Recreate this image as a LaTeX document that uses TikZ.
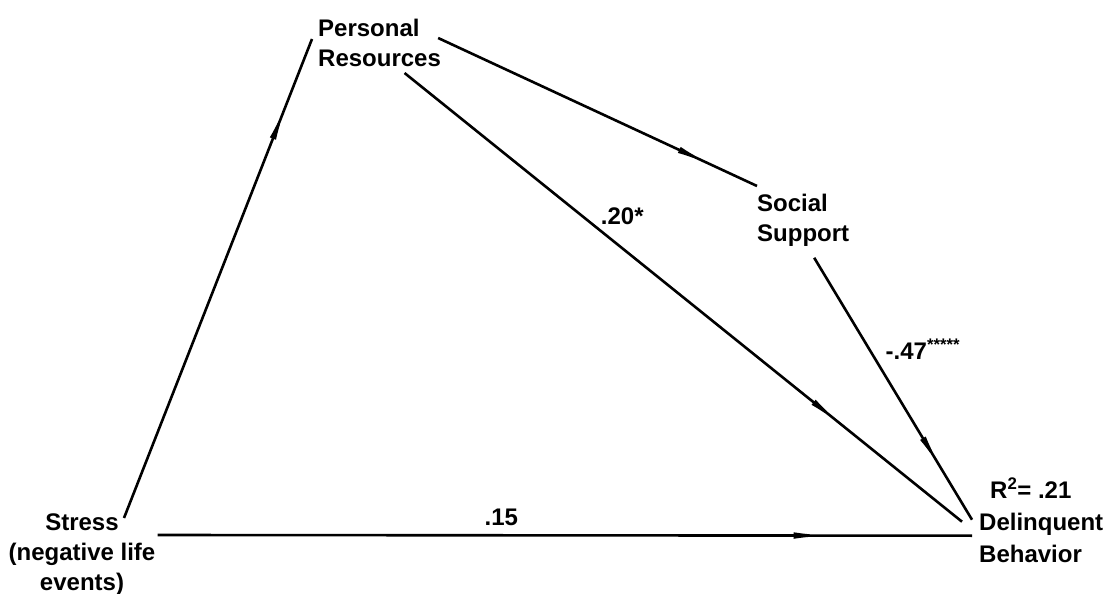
\documentclass[tikz,border=0pt]{standalone}
\usepackage{fontspec}
\setmainfont{Liberation Sans}
\usetikzlibrary{arrows.meta,positioning,decorations.markings}

\begin{document}
\begin{tikzpicture}[
  x=1pt, y=-1pt,
  var/.style={inner sep=0pt, font=\fontsize{24}{30}\selectfont\bfseries},
  lab/.style={inner sep=0pt, font=\fontsize{24}{30}\selectfont\bfseries},
  link/.style={line width=2.6pt, postaction={decorate},
    decoration={markings, mark=at position #1 with {\arrow{Latex[length=40pt,width=6.5pt]}}}},
  link/.default=0.85
]
\useasboundingbox (0,0) rectangle (1109,594);

\node[var, anchor=north, align=center] (stress) at (82,514) {Stress\\(negative life\\events)};
\node[var, anchor=north west, align=left] (pers) at (318,19) {Personal\\Resources};
\node[var, anchor=north west, align=left] (soc) at (757,194) {Social\\Support};
\node[var, anchor=north west, align=left, font=\fontsize{24}{32}\selectfont\bfseries] (del) at (979,478) {\hspace*{11pt}R\textsuperscript{2}= .21\\Delinquent\\Behavior};

\draw[link=0.87] ([shift={(42pt,-4pt)}]stress.north) -- ([shift={(-6pt,-20pt)}]pers.north west);
\draw[link=0.87] ([shift={(-3pt,-19pt)}]pers.north east) -- ([yshift=8pt]soc.north west);
\draw[link=0.79] ([shift={(25pt,-6pt)}]pers.south) -- node[lab, pos=0.35, anchor=south west, yshift=4pt]{.20*} ([shift={(-17pt,-1pt)}]del.west);
\draw[link=0.82] ([shift={(11pt,-11pt)}]soc.south) -- node[lab, pos=0.35, anchor=west, xshift=15pt]{-.47\textsuperscript{*****}} ([shift={(-7pt,1pt)}]del.west);
\draw[link=0.83] ([shift={(2pt,-21pt)}]stress.north east) -- node[lab, pos=0.40, anchor=south west, yshift=8pt]{.15} ([shift={(-7pt,-15pt)}]del.west);
\end{tikzpicture}
\end{document}
